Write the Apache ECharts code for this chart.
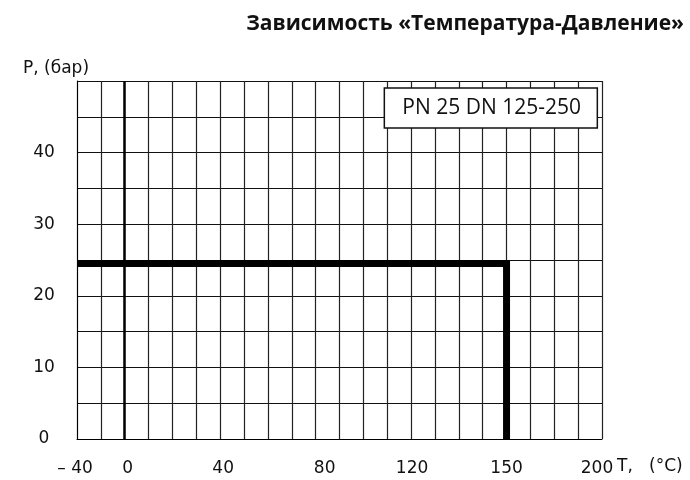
<!DOCTYPE html>
<html>
<head>
<meta charset="utf-8">
<script src="https://cdn.jsdelivr.net/npm/echarts@6/dist/echarts.min.js"></script>
<style>
  html, body { margin: 0; padding: 0; background: #fff; }
  #chart { width: 690px; height: 480px; }
</style>
</head>
<body>
<div id="chart"></div>
<script>
// Temperature grid lines (°C); blank entries are unlabelled grid lines
const tempTicks = ['-40', '', '0', '', '', '', '40', '', '', '', '80', '', '', '', '120', '', '', '', '150', '', '', '', '200'];
// Pressure ticks with labels (bar)
const pressureTicks = [0, 10, 20, 30, 40];
// Pressure–temperature limit curve
const limitTemps = ['-40', '150', '150'];
const limitPressure = [24.5, 24.5, 0];

const chartTitle = 'Зависимость «Температура-Давление»';
const ratingLabel = 'PN 25 DN 125-250';
const yName = 'P, (бар)';
const xName = 'T,   (°C)';

// small horizontal nudges for the temperature labels
const labelShift = { '-40': -2, '0': 3, '40': 3, '80': 9, '120': 1, '150': 0, '200': -5 };
const rich = {};
Object.keys(labelShift).forEach(function (k, i) {
  const s = labelShift[k];
  rich['t' + i] = {
    fontFamily: 'DejaVu Sans', fontSize: 17, color: '#111',
    padding: s >= 0 ? [0, 0, 0, 2 * s] : [0, -2 * s, 0, 0]
  };
});
const shiftKeys = Object.keys(labelShift);

const limitData = limitTemps.map(function (t, i) {
  return [tempTicks.indexOf(t), limitPressure[i]];
});

const chart = echarts.init(document.getElementById('chart'), null, { renderer: 'canvas' });
chart.setOption({
  animation: false,
  backgroundColor: '#fff',
  title: [
    {
      text: chartTitle,
      right: 1, top: 9,
      textStyle: { fontFamily: 'Open Sans', fontWeight: 'bold', fontSize: 21, color: '#111' }
    },
    {
      text: ratingLabel,
      right: 92, top: 88,
      padding: [9, 17, 9, 18],
      backgroundColor: '#fff',
      borderColor: '#111',
      borderWidth: 1.5,
      textStyle: { fontFamily: 'Open Sans', fontWeight: 'normal', fontSize: 21, lineHeight: 22, color: '#111' },
      z: 10
    },
    {
      // temperature axis name, placed on the tick-label row
      text: xName,
      left: 617, top: 457,
      padding: 0,
      textStyle: { fontFamily: 'DejaVu Sans', fontWeight: 'normal', fontSize: 17, lineHeight: 20, color: '#111' }
    }
  ],
  grid: { left: 77, right: 88, top: 81, bottom: 41, containLabel: false },
  xAxis: {
    type: 'category',
    data: tempTicks,
    boundaryGap: false,
    axisLine: { show: true, lineStyle: { color: '#000', width: 1 } },
    axisTick: { show: false },
    axisLabel: {
      interval: 0,
      margin: 21,
      fontFamily: 'DejaVu Sans', fontSize: 17, color: '#111',
      formatter: function (v) {
        if (!v) return '';
        const i = shiftKeys.indexOf(v);
        const txt = v === '-40' ? '– 40' : v;
        return '{t' + i + '|' + txt + '}';
      },
      rich: rich
    },
    splitLine: { show: true, interval: 0, lineStyle: { color: '#222', width: 1.2 } }
  },
  yAxis: {
    type: 'value',
    min: 0, max: 50, interval: 5,
    name: yName,
    nameLocation: 'end',
    nameGap: 4,
    nameTextStyle: { fontFamily: 'DejaVu Sans', fontSize: 17, color: '#111', align: 'center', padding: [0, 42, 0, 0] },
    axisLine: { show: true, lineStyle: { color: '#000', width: 1 } },
    axisTick: { show: false },
    axisLabel: {
      margin: 33,
      align: 'center',
      fontFamily: 'DejaVu Sans', fontSize: 17, color: '#111',
      formatter: function (v) { return pressureTicks.indexOf(v) >= 0 ? String(v) : ''; }
    },
    splitLine: { show: true, lineStyle: { color: '#111', width: 1 } }
  },
  series: [
    {
      type: 'line',
      data: limitData,
      symbol: 'none',
      lineStyle: { color: '#000', width: 7, join: 'miter', cap: 'butt' },
      z: 5,
      markLine: {
        silent: true,
        symbol: 'none',
        label: { show: false },
        lineStyle: { color: '#000', width: 2.5, type: 'solid' },
        data: [{ xAxis: tempTicks.indexOf('0') }]
      }
    }
  ]
});
</script>
</body>
</html>
